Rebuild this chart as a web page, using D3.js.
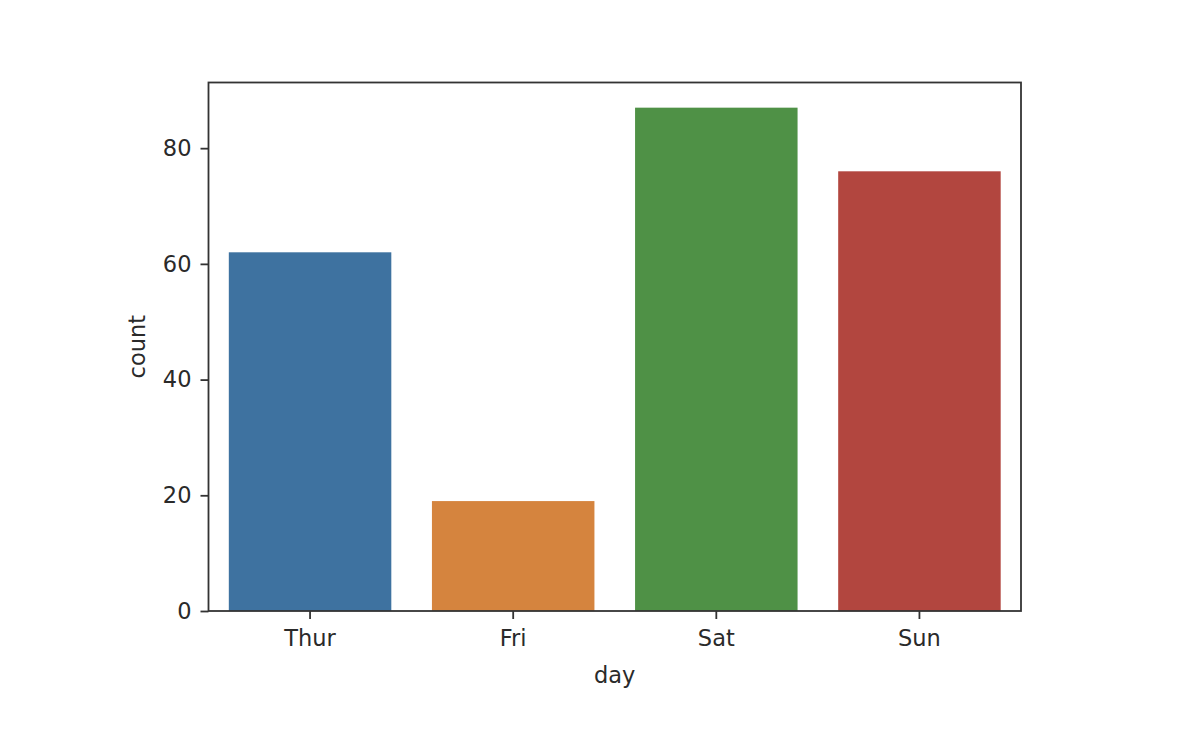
<!DOCTYPE html>
<html>
<head>
<meta charset="utf-8">
<script src="https://cdn.jsdelivr.net/npm/d3@7"></script>
<style>
  body { margin: 0; background: #fff; }
  text { font-family: "DejaVu Sans", sans-serif; fill: #2a2a2a; }
</style>
</head>
<body>
<svg id="chart"></svg>
<script>
const days = ["Thur", "Fri", "Sat", "Sun"];
const counts = [62, 19, 87, 76];
const barColors = ["#3e72a0", "#d5843e", "#4f9146", "#b2463f"];
const yTicks = [0, 20, 40, 60, 80];

const width = 1200, height = 734;
const margin = {top: 82.5, right: 179, bottom: 123, left: 208.5};

const svg = d3.select("#chart")
    .attr("width", width)
    .attr("height", height);

const x = d3.scaleBand()
    .domain(days)
    .range([margin.left, width - margin.right])
    .paddingInner(0.2)
    .paddingOuter(0.1);

const y = d3.scaleLinear()
    .domain([0, d3.max(counts) * 1.05])
    .range([height - margin.bottom, margin.top]);

svg.append("g")
    .selectAll("rect")
    .data(days)
    .enter().append("rect")
        .attr("x", d => x(d))
        .attr("y", (d, i) => y(counts[i]))
        .attr("width", x.bandwidth())
        .attr("height", (d, i) => y(0) - y(counts[i]))
        .attr("fill", (d, i) => barColors[i]);

const xAxis = g => g
    .attr("transform", `translate(0,${height - margin.bottom})`)
    .call(d3.axisBottom(x).tickSize(8).tickPadding(11).tickSizeOuter(0))
    .call(g => g.select(".domain").remove())
    .call(g => g.selectAll(".tick line").attr("stroke", "#333").attr("stroke-width", 1.8))
    .call(g => g.selectAll(".tick text").style("font-size", "22.5px"));

const yAxis = g => g
    .attr("transform", `translate(${margin.left},0)`)
    .call(d3.axisLeft(y).tickValues(yTicks).tickSize(8).tickPadding(9).tickSizeOuter(0))
    .call(g => g.select(".domain").remove())
    .call(g => g.selectAll(".tick line").attr("stroke", "#333").attr("stroke-width", 1.8))
    .call(g => g.selectAll(".tick text").style("font-size", "22.5px"));

svg.append("g").call(xAxis);
svg.append("g").call(yAxis);

// frame
svg.append("rect")
    .attr("x", margin.left)
    .attr("y", margin.top)
    .attr("width", width - margin.left - margin.right)
    .attr("height", height - margin.top - margin.bottom)
    .attr("fill", "none")
    .attr("stroke", "#333")
    .attr("stroke-width", 1.8);

svg.append("text")
    .attr("x", (margin.left + width - margin.right) / 2)
    .attr("y", 683)
    .attr("text-anchor", "middle")
    .style("font-size", "22.5px")
    .text("day");

svg.append("text")
    .attr("transform", `translate(145,${(margin.top + height - margin.bottom) / 2}) rotate(-90)`)
    .attr("text-anchor", "middle")
    .style("font-size", "22.5px")
    .text("count");
</script>
</body>
</html>
